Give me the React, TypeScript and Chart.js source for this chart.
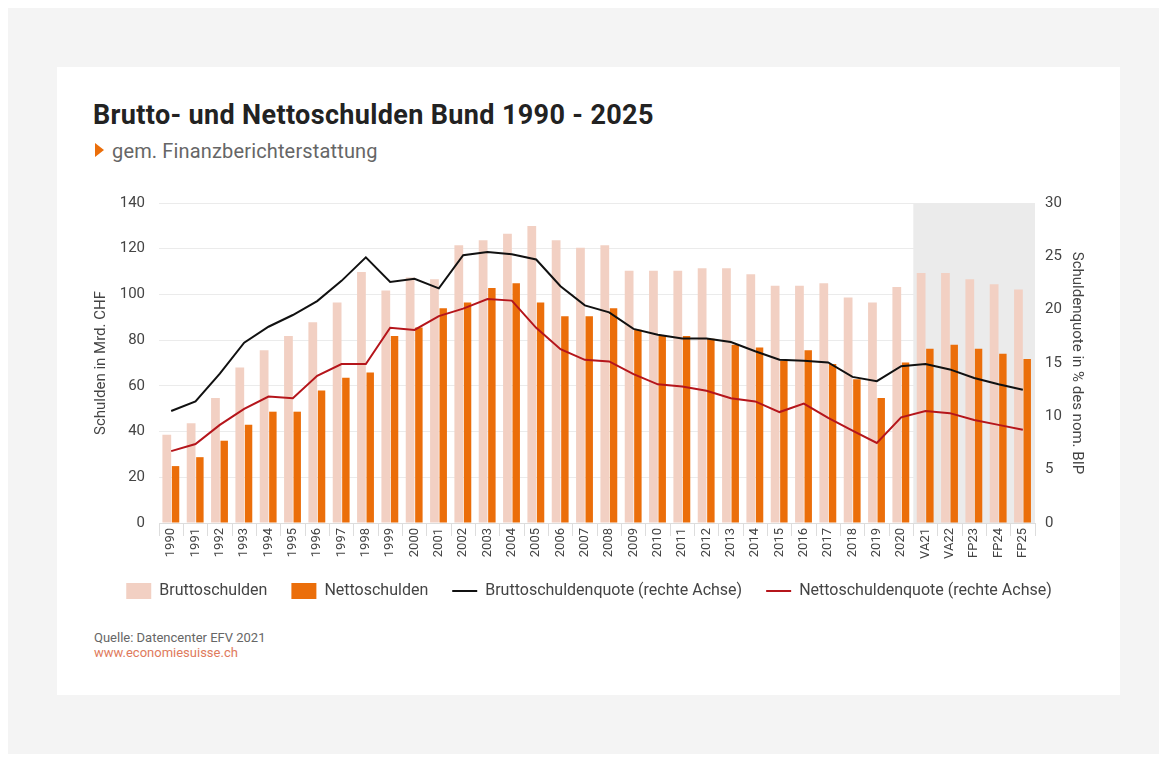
import React, { useEffect, useRef } from "react";
import { Chart, registerables } from "chart.js";
Chart.register(...registerables);

const categories = [
  "1990", "1991", "1992", "1993", "1994", "1995", "1996", "1997", "1998", "1999",
  "2000", "2001", "2002", "2003", "2004", "2005", "2006", "2007", "2008", "2009",
  "2010", "2011", "2012", "2013", "2014", "2015", "2016", "2017", "2018", "2019",
  "2020", "VA21", "VA22", "FP23", "FP24", "FP25",
];
const bruttoschulden = [
  38.6, 43.6, 54.7, 68, 75.6, 81.8, 87.8, 96.5, 109.8, 101.7,
  107.4, 106.6, 121.5, 123.7, 126.5, 129.9, 123.7, 120.4, 121.5, 110.4,
  110.4, 110.4, 111.5, 111.5, 108.8, 103.8, 103.8, 104.9, 98.7, 96.5,
  103.3, 109.4, 109.4, 106.6, 104.4, 102.2,
];
const nettoschulden = [
  24.9, 28.8, 36, 43, 48.7, 48.7, 58, 63.5, 65.8, 81.8,
  85.5, 93.9, 96.5, 102.8, 104.9, 96.5, 90.5, 90.5, 93.9, 84.5,
  81.8, 81.8, 80.6, 78, 76.8, 71, 75.6, 69.6, 62.9, 54.7,
  70.2, 76.2, 78, 76.2, 74, 71.8,
];
const bruttoschuldenquote = [
  10.5, 11.4, 14.0, 16.9, 18.4, 19.5, 20.8, 22.7, 24.9, 22.6,
  22.9, 22.0, 25.1, 25.4, 25.2, 24.7, 22.2, 20.4, 19.75, 18.2,
  17.65, 17.3, 17.3, 16.96, 16.1, 15.3, 15.2, 15.05, 13.7, 13.3,
  14.7, 14.9, 14.4, 13.6, 13.0, 12.5,
];
const nettoschuldenquote = [
  6.74, 7.4, 9.2, 10.7, 11.85, 11.7, 13.8, 14.9, 14.9, 18.3,
  18.1, 19.4, 20.1, 21.0, 20.85, 18.3, 16.3, 15.3, 15.15, 13.95,
  13.0, 12.8, 12.4, 11.7, 11.4, 10.4, 11.2, 9.85, 8.65, 7.5,
  9.9, 10.5, 10.3, 9.65, 9.2, 8.75,
];
const leftAxisMax = 140;
const leftAxisStep = 20;
const rightAxisMax = 30;
const rightAxisStep = 5;
const forecastStart = "VA21";

const FONT = "Roboto, 'DejaVu Sans', sans-serif";
const ORANGE = "#EB6E0A";
const PEACH = "#F2D0C3";
const BLACK_LINE = "#111111";
const RED_LINE = "#B5151B";
const TEXT = "#444444";

const shadePlugin = {
  id: "forecastShade",
  beforeDraw(chart: any) {
    const x = chart.scales.x;
    const area = chart.chartArea;
    const idx = categories.indexOf(forecastStart);
    const left = (x.getPixelForValue(idx - 1) + x.getPixelForValue(idx)) / 2;
    const ctx = chart.ctx;
    ctx.save();
    ctx.fillStyle = "#EBEBEB";
    ctx.fillRect(left, area.top, area.right - left, area.bottom - area.top);
    ctx.restore();
  },
};

export default function App() {
  const ref = useRef<HTMLCanvasElement>(null);
  useEffect(() => {
    if (!ref.current) return;
    const chart = new Chart(ref.current, {
      type: "bar",
      data: {
        labels: categories,
        datasets: [
          {
            type: "bar",
            label: "Bruttoschulden",
            data: bruttoschulden,
            backgroundColor: PEACH,
            borderWidth: 0,
            yAxisID: "y",
            barPercentage: 1.0,
            categoryPercentage: 0.72,
            order: 2,
            pointStyle: "rect",
          } as any,
          {
            type: "bar",
            label: "Nettoschulden",
            data: nettoschulden,
            backgroundColor: ORANGE,
            borderWidth: 0,
            yAxisID: "y",
            barPercentage: 0.85,
            categoryPercentage: 0.72,
            order: 2,
            pointStyle: "rect",
          } as any,
          {
            type: "line",
            label: "Bruttoschuldenquote (rechte Achse)",
            data: bruttoschuldenquote,
            borderColor: BLACK_LINE,
            backgroundColor: BLACK_LINE,
            borderWidth: 2,
            pointRadius: 0,
            tension: 0,
            yAxisID: "y1",
            order: 1,
            pointStyle: "line",
          } as any,
          {
            type: "line",
            label: "Nettoschuldenquote (rechte Achse)",
            data: nettoschuldenquote,
            borderColor: RED_LINE,
            backgroundColor: RED_LINE,
            borderWidth: 2,
            pointRadius: 0,
            tension: 0,
            yAxisID: "y1",
            order: 1,
            pointStyle: "line",
          } as any,
        ],
      },
      options: {
        responsive: false,
        animation: false,
        layout: { padding: { left: 30, right: 29, top: 12, bottom: 4 } },
        plugins: {
          tooltip: { enabled: false },
          legend: {
            position: "bottom",
            labels: {
              usePointStyle: true,
              pointStyleWidth: 25,
              boxHeight: 16,
              padding: 24,
              color: TEXT,
              font: { family: FONT, size: 16 },
              sort: (a: any, b: any) => a.datasetIndex - b.datasetIndex,
            },
          },
        },
        scales: {
          x: {
            offset: true,
            grid: {
              display: true,
              drawOnChartArea: false,
              drawTicks: true,
              tickLength: 13,
              color: "#DDDDDD",
              offset: true,
            },
            border: { display: true, color: "#DDDDDD" },
            ticks: {
              autoSkip: false,
              minRotation: 90,
              maxRotation: 90,
              padding: -8,
              color: TEXT,
              font: { family: FONT, size: 13 },
            },
            afterFit: (s: any) => { s.height = 36; },
          },
          y: {
            position: "left",
            min: 0,
            max: leftAxisMax,
            ticks: { stepSize: leftAxisStep, padding: 14, color: TEXT, font: { family: FONT, size: 15 } },
            grid: { color: "#EBEBEB", drawTicks: false },
            border: { display: false },
            title: {
              display: true,
              text: "Schulden in Mrd. CHF",
              color: TEXT,
              font: { family: FONT, size: 15 },
              padding: { top: 5, bottom: 0 },
            },
            afterFit: (s: any) => { s.width = 72; },
          },
          y1: {
            position: "right",
            min: 0,
            max: rightAxisMax,
            ticks: { stepSize: rightAxisStep, padding: 10, color: TEXT, font: { family: FONT, size: 15 } },
            grid: { drawOnChartArea: false, drawTicks: false },
            border: { display: false },
            title: {
              display: true,
              text: "Schuldenquote in % des nom. BIP",
              color: TEXT,
              font: { family: FONT, size: 15 },
              padding: { top: 5, bottom: 0 },
            },
            afterFit: (s: any) => { s.width = 56; },
          },
        },
      },
      plugins: [shadePlugin],
    });
    return () => chart.destroy();
  }, []);

  return (
    <div style={{ background: "#F4F4F4", height: 746, position: "relative", fontFamily: FONT }}>
      <div style={{ position: "absolute", left: 49, top: 59, width: 1063, height: 628, background: "#FFFFFF" }}>
        <div style={{ position: "absolute", left: 36, top: 35, fontSize: 27, letterSpacing: 0.35, lineHeight: 1, fontWeight: 700, color: "#222222", whiteSpace: "nowrap" }}>
          Brutto- und Nettoschulden Bund 1990 - 2025
        </div>
        <div style={{ position: "absolute", left: 38, top: 76, width: 0, height: 0, borderLeft: "9px solid " + ORANGE, borderTop: "7px solid transparent", borderBottom: "7px solid transparent" }} />
        <div style={{ position: "absolute", left: 55, top: 74, fontSize: 20, letterSpacing: 0.15, lineHeight: 1, color: "#666666", whiteSpace: "nowrap" }}>
          gem. Finanzberichterstattung
        </div>
        <div style={{ position: "absolute", left: 0, top: 113, width: 1063, height: 433 }}>
          <canvas ref={ref} width={1063} height={433} style={{ display: "block" }} />
        </div>
        <div style={{ position: "absolute", left: 37, top: 564, fontSize: 13, lineHeight: 1, color: "#666666", whiteSpace: "nowrap" }}>
          Quelle: Datencenter EFV 2021
        </div>
        <div style={{ position: "absolute", left: 37, top: 579, fontSize: 13, lineHeight: 1, color: "#E07A5C", whiteSpace: "nowrap" }}>
          www.economiesuisse.ch
        </div>
      </div>
    </div>
  );
}
